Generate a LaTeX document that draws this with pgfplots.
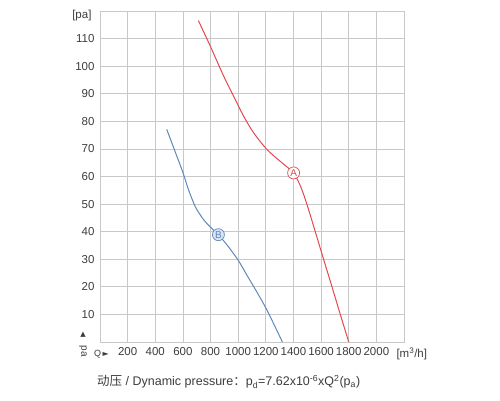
\documentclass[border=0pt]{standalone}
\usepackage{pgfplots}
\pgfplotsset{compat=1.18}
\usepackage{fontspec}
\setmainfont{Liberation Sans}
\newfontfamily\cjk{Noto Sans CJK SC}
\newfontfamily\dejavu{DejaVu Sans}
\definecolor{gridc}{RGB}{200,200,200}
\definecolor{redc}{RGB}{228,72,78}
\definecolor{bluec}{RGB}{95,135,185}
\definecolor{bluefill}{RGB}{215,228,245}
\definecolor{txt}{RGB}{60,60,60}
\begin{document}
\begin{tikzpicture}[x=1pt,y=1pt]
\path (0,0) rectangle (500,400);
\begin{axis}[
  at={(100pt,58pt)}, anchor=south west,
  scale only axis, width=304pt, height=331pt,
  xmin=0, xmax=2200, ymin=0, ymax=120,
  xtick={0,200,...,2200},
  xticklabels={,200,400,600,800,1000,1200,1400,1600,1800,2000,},
  ytick={0,10,...,110},
  yticklabels={,10,20,30,40,50,60,70,80,90,100,110},
  grid=major,
  grid style={gridc, line width=0.8pt},
  axis line style={gridc, line width=0.8pt},
  major tick length=0pt,
  tick label style={font=\fontsize{11.5}{13}\selectfont, text=txt},
  /pgf/number format/assume math mode=true,
  xticklabel style={yshift=-2pt},
  yticklabel style={xshift=-2pt},
  clip=false,
]
\addplot[redc, line width=1pt, smooth, tension=0.45] coordinates {
(712,116.5)(797,107.4)(894,96.5)(966,89.2)(1039,81.9)(1111,75.9)(1208,69.8)(1316,65)(1401,61.3)(1455,56)(1500,49.5)(1558,40)(1618,30)(1679,20)(1739,10)(1800,0)};
\addplot[bluec, line width=1pt, smooth, tension=0.45] coordinates {
(483,77.1)(540,69.5)(597,61.9)(640,55.3)(690,49)(749,44.4)(800,41.6)(857,38.9)(930,34.5)(1002,29.5)(1060,24.5)(1125,19)(1208,11.6)(1320,0)};
\addplot[only marks, mark=*, mark size=6pt, mark options={draw=redc, fill=white, line width=0.7pt},
  point meta=explicit symbolic, nodes near coords,
  every node near coord/.style={anchor=center, text=redc, font=\fontsize{10}{10}\selectfont}]
  coordinates {(1401,61.3) [A]};
\addplot[only marks, mark=*, mark size=6pt, mark options={draw=bluec, fill=bluefill, line width=0.7pt},
  point meta=explicit symbolic, nodes near coords,
  every node near coord/.style={anchor=center, text=bluec, font=\fontsize{10}{10}\selectfont}]
  coordinates {(857,38.9) [B]};
\end{axis}
\node[text=txt, font=\fontsize{11.5}{13}\selectfont, anchor=east] at (95,384) {[pa]};
\node[text=txt, font=\fontsize{11.5}{13}\selectfont, anchor=west] at (393,46) {[m\textsuperscript{3}/h]};
\node[text=txt, font=\dejavu\fontsize{7}{7}\selectfont] at (83,65) {▲};
\node[text=txt, font=\fontsize{10}{10}\selectfont, rotate=-90] at (83,49) {pa};
\node[text=txt, anchor=west, inner sep=0pt] at (94,46) {\fontsize{9}{9}\selectfont Q\,\dejavu\fontsize{8}{8}\selectfont ►};
\node[text=txt, anchor=west, inner sep=0pt, font=\fontsize{12.5}{14}\selectfont] at (97,18)
  {{\cjk 动压} / Dynamic pressure{\cjk ：}p\textsubscript{d}=7.62x10\textsuperscript{-6}xQ\textsuperscript{2}(p\textsubscript{a})};
\end{tikzpicture}
\end{document}
